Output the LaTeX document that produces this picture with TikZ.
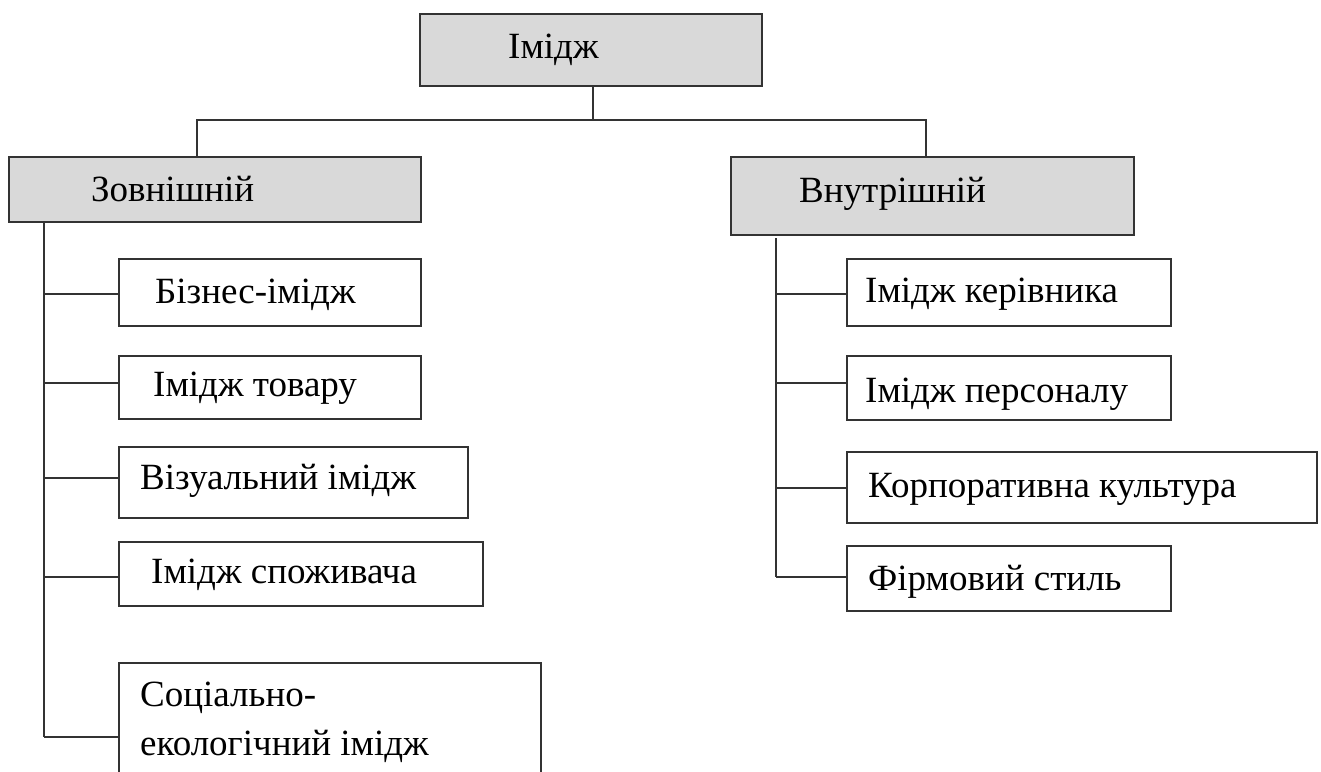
\documentclass[tikz,border=0pt]{standalone}
\usepackage{fontspec}
\setmainfont{Liberation Serif}
\begin{document}
\begin{tikzpicture}[x=1pt,y=-1pt,
  box/.style={draw=linec, line width=1.6pt, rectangle, inner sep=0pt, anchor=north west},
  headbox/.style={box, fill=boxgray},
  lbl/.style={anchor=base west, inner sep=0pt, font=\fontsize{37}{44}\selectfont},
  conn/.style={draw=linec, line width=1.6pt}]
\definecolor{boxgray}{HTML}{D9D9D9}
\definecolor{linec}{HTML}{333333}
\clip (0,0) rectangle (1321,771);
\fill[white] (0,0) rectangle (1321,771);
% boxes
\node[headbox, minimum width=342pt, minimum height=72pt] (img) at (419,13) {};
\node[headbox, minimum width=412pt, minimum height=65pt] (zov) at (8,156) {};
\node[headbox, minimum width=403pt, minimum height=78pt] (vnu) at (730,156) {};
\node[box, minimum width=302pt, minimum height=67pt] (biz) at (118,258) {};
\node[box, minimum width=302pt, minimum height=63pt] (tov) at (118,355) {};
\node[box, minimum width=349pt, minimum height=71pt] (viz) at (118,446) {};
\node[box, minimum width=364pt, minimum height=64pt] (spo) at (118,541) {};
\node[box, minimum width=422pt, minimum height=150pt] (soc) at (118,662) {};
\node[box, minimum width=324pt, minimum height=67pt] (ker) at (846,258) {};
\node[box, minimum width=324pt, minimum height=64pt] (per) at (846,355) {};
\node[box, minimum width=470pt, minimum height=71pt] (kor) at (846,451) {};
\node[box, minimum width=324pt, minimum height=65pt] (fir) at (846,545) {};
% labels
\node[lbl] (timg) at (508,58) {Імідж};
\node[lbl] (tzov) at (91,201) {Зовнішній};
\node[lbl] (tvnu) at (799,202) {Внутрішній};
\node[lbl] (tbiz) at (155,303) {Бізнес-імідж};
\node[lbl] (ttov) at (153,396) {Імідж товару};
\node[lbl] (tviz) at (140,489) {Візуальний імідж};
\node[lbl] (tspo) at (151,583) {Імідж споживача};
\node[lbl] (tsoc1) at (140,706) {Соціально-};
\node[lbl] (tsoc2) at (140,755) {екологічний імідж};
\node[lbl] (tker) at (865,302) {Імідж керівника};
\node[lbl] (tper) at (865,402) {Імідж персоналу};
\node[lbl] (tkor) at (868,497) {Корпоративна культура};
\node[lbl] (tfir) at (868,590) {Фірмовий стиль};
% connector points
\coordinate (hub) at (593,120);
\coordinate (hl) at (197,120);
\coordinate (hr) at (926,120);
\coordinate (lt) at (44,221);
\coordinate (lb) at (44,737);
\coordinate (rt) at (776,238);
\coordinate (rb) at (776,577);
% connectors
\path[conn] (hub |- img.south) -- (hub);
\path[conn] (hl |- zov.north) -- (hl) -- (hr) -- (hr |- vnu.north);
\path[conn] (lt) -- (lb);
\path[conn] (lt |- 0,294) -- (biz.west |- 0,294);
\path[conn] (lt |- 0,383) -- (tov.west |- 0,383);
\path[conn] (lt |- 0,478) -- (viz.west |- 0,478);
\path[conn] (lt |- 0,577) -- (spo.west |- 0,577);
\path[conn] (lb) -- (soc.west |- lb);
\path[conn] (rt) -- (rb);
\path[conn] (rt |- 0,294) -- (ker.west |- 0,294);
\path[conn] (rt |- 0,383) -- (per.west |- 0,383);
\path[conn] (rt |- 0,488) -- (kor.west |- 0,488);
\path[conn] (rb) -- (fir.west |- rb);
\end{tikzpicture}
\end{document}
